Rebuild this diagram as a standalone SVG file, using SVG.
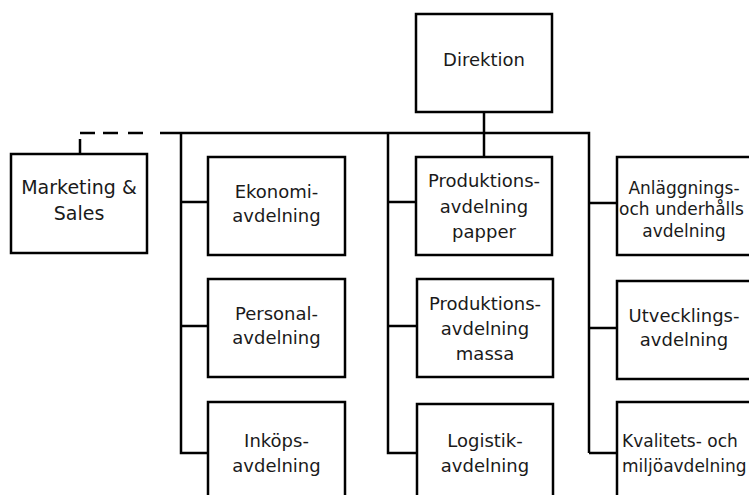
<svg xmlns="http://www.w3.org/2000/svg" width="749" height="495" viewBox="0 0 749 495">
<style>
.box{fill:#fff;stroke:#000;stroke-width:2.5}
.ln{fill:none;stroke:#000;stroke-width:2.5}
text{font-family:"DejaVu Sans","Verdana",sans-serif;font-size:18px;fill:#1a1a1a;text-anchor:middle}
.s{font-size:17px}
.l{text-anchor:start}
</style>
<rect width="749" height="495" fill="#fff"/>
<g id="connectors">
<path class="ln" d="M80 139V154M80 133H95M103 133H118M128 133H143"/>
<path class="ln" d="M160 133H589V453"/>
<path class="ln" d="M484 112V157"/>
<path class="ln" d="M181 133V453H208M181 202H208M181 326H208"/>
<path class="ln" d="M388 133V453H417M388 202H416M388 326H417"/>
<path class="ln" d="M589 203H617M589 328H617M589 453H617"/>
</g>
<g id="direktion"><rect class="box" x="416" y="14" width="136" height="98"/><text x="484" y="66">Direktion</text></g>
<g id="marketing"><rect class="box" x="11" y="154" width="136" height="99"/><text x="79" y="194" style="font-size:19px">Marketing &amp;</text><text x="79" y="220" style="font-size:19px">Sales</text></g>
<g id="ekonomi"><rect class="box" x="208" y="157" width="137" height="98"/><text x="276.5" y="198">Ekonomi-</text><text x="276.5" y="222">avdelning</text></g>
<g id="personal"><rect class="box" x="208" y="279" width="137" height="98"/><text x="276.5" y="320">Personal-</text><text x="276.5" y="344">avdelning</text></g>
<g id="inkops"><rect class="box" x="208" y="402" width="137" height="98"/><text x="276.5" y="447">Inköps-</text><text x="276.5" y="472">avdelning</text></g>
<g id="prod-papper"><rect class="box" x="416" y="157" width="136" height="98"/><text x="484" y="187">Produktions-</text><text x="484" y="213">avdelning</text><text x="484" y="238">papper</text></g>
<g id="prod-massa"><rect class="box" x="417" y="279" width="136" height="98"/><text x="485" y="310">Produktions-</text><text x="485" y="335">avdelning</text><text x="485" y="360">massa</text></g>
<g id="logistik"><rect class="box" x="417" y="404" width="136" height="98"/><text x="485" y="447">Logistik-</text><text x="485" y="472">avdelning</text></g>
<g id="anlaggning"><rect class="box" x="617" y="157" width="137" height="98"/><text class="s" x="684" y="194">Anläggnings-</text><text class="s l" x="619" y="215">och underhålls</text><text class="s" x="684" y="237">avdelning</text></g>
<g id="utveckling"><rect class="box" x="617" y="281" width="137" height="98"/><text x="684" y="322">Utvecklings-</text><text x="684" y="346">avdelning</text></g>
<g id="kvalitet"><rect class="box" x="617" y="402" width="137" height="98"/><text class="s l" x="622" y="447">Kvalitets- och</text><text class="s l" x="622" y="472">miljöavdelning</text></g>
</svg>
